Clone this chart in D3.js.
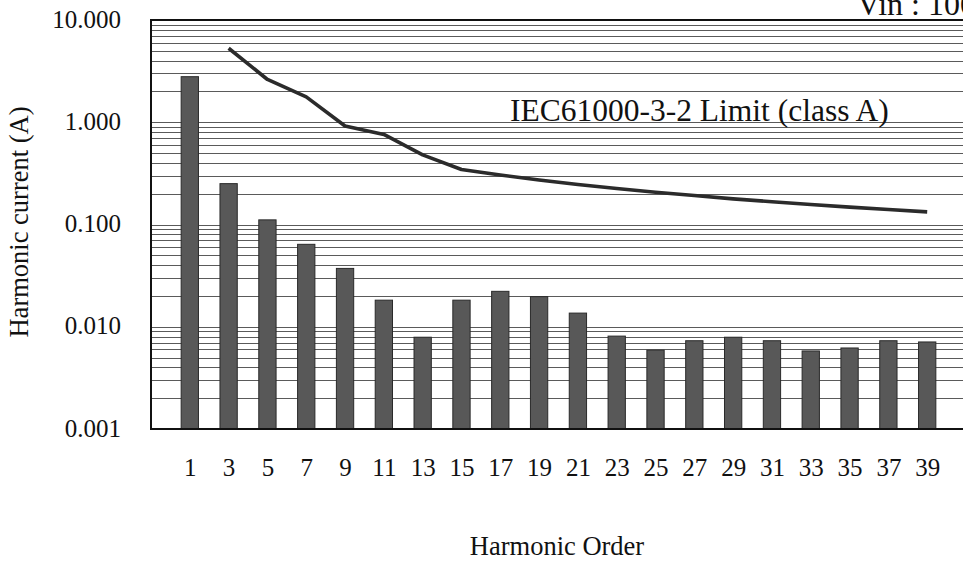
<!DOCTYPE html>
<html>
<head>
<meta charset="utf-8">
<script src="https://cdn.jsdelivr.net/npm/d3@7"></script>
<style>
  html, body { margin: 0; padding: 0; background: #fff; overflow: hidden; }
  svg { display: block; font-family: "Liberation Serif", "Times New Roman", serif; }
</style>
</head>
<body>
<svg id="chart" width="963" height="565"></svg>
<script>
// ---- data ----
const harmonicOrders = [1, 3, 5, 7, 9, 11, 13, 15, 17, 19, 21, 23, 25, 27, 29, 31, 33, 35, 37, 39];
const harmonicCurrent = [2.79, 0.251, 0.111, 0.064, 0.0372, 0.0182, 0.0079, 0.0182, 0.0222, 0.0197,
                         0.0136, 0.0081, 0.0059, 0.0073, 0.0079, 0.0073, 0.0058, 0.0062, 0.0073, 0.0071];
const limitOrders = [3, 5, 7, 9, 11, 13, 15, 17, 19, 21, 23, 25, 27, 29, 31, 33, 35, 37, 39];
const limitCurrent = [5.29, 2.62, 1.77, 0.92, 0.76, 0.48, 0.345, 0.305, 0.272, 0.246,
                      0.225, 0.207, 0.192, 0.178, 0.167, 0.157, 0.148, 0.140, 0.133];
const yTickValues = [10, 1, 0.1, 0.01, 0.001];
const yTickLabels = ["10.000", "1.000", "0.100", "0.010", "0.001"];
const limitLabel = "IEC61000-3-2 Limit (class A)";
const xTitle = "Harmonic Order";
const yTitle = "Harmonic current (A)";
const noteText = "Vin : 100V";

// ---- layout ----
const plotLeft = 151, plotRight = 966, plotTop = 20, plotBottom = 429;
const svg = d3.select("#chart");

const x = d3.scalePoint().domain(harmonicOrders).range([plotLeft, plotRight]).padding(1);
const y = d3.scaleLog().domain([0.001, 10]).range([plotBottom, plotTop]);
const barW = 17.3;

// gridlines (log minor + major)
const gridVals = [];
[0.001, 0.01, 0.1, 1].forEach(d => { for (let k = 1; k <= 9; k++) gridVals.push(k * d); });
gridVals.push(10);
svg.append("g").selectAll("line").data(gridVals).join("line")
  .attr("x1", plotLeft).attr("x2", plotRight)
  .attr("y1", d => Math.round(y(d)) + 0.5).attr("y2", d => Math.round(y(d)) + 0.5)
  .attr("stroke", "#5a5a5a").attr("stroke-width", 1);

// bars
svg.append("g").selectAll("rect").data(harmonicOrders).join("rect")
  .attr("x", d => x(d) - barW / 2)
  .attr("width", barW)
  .attr("y", (d, i) => y(harmonicCurrent[i]))
  .attr("height", (d, i) => y(0.001) - y(harmonicCurrent[i]))
  .attr("fill", "#585858")
  .attr("stroke", "#2a2a2a").attr("stroke-width", 1);

// plot frame
svg.append("rect").attr("x", plotLeft).attr("y", plotTop)
  .attr("width", plotRight - plotLeft).attr("height", plotBottom - plotTop)
  .attr("fill", "none").attr("stroke", "#111").attr("stroke-width", 2);

// limit line
const line = d3.line().x(d => x(d)).y((d, i) => y(limitCurrent[i]));
svg.append("path").datum(limitOrders).attr("d", line)
  .attr("fill", "none").attr("stroke", "#2b2b2b").attr("stroke-width", 3.6)
  .attr("stroke-linejoin", "round");

// limit label
svg.append("text").attr("x", 510).attr("y", 121)
  .attr("font-size", 31.5).attr("fill", "#111").text(limitLabel);

// y axis labels
const yAxis = d3.axisLeft(y).tickValues(yTickValues)
  .tickFormat((d, i) => yTickLabels[i]).tickSize(0).tickPadding(30);
const gy = svg.append("g").attr("transform", `translate(${plotLeft},0)`).call(yAxis);
gy.select(".domain").remove();
gy.selectAll("text").attr("font-family", "Liberation Serif").attr("font-size", 25)
  .attr("fill", "#111").attr("dy", "0.28em");

// x axis labels
const xAxis = d3.axisBottom(x).tickSize(0).tickPadding(29);
const gx = svg.append("g").attr("transform", `translate(0,${plotBottom})`).call(xAxis);
gx.select(".domain").remove();
gx.selectAll("text").attr("font-family", "Liberation Serif").attr("font-size", 25)
  .attr("fill", "#111");

// titles
svg.append("text").attr("x", 557).attr("y", 555).attr("text-anchor", "middle")
  .attr("font-size", 26.5).attr("fill", "#111").text(xTitle);
svg.append("text").attr("transform", "translate(28,222) rotate(-90)").attr("text-anchor", "middle")
  .attr("font-size", 26.5).attr("fill", "#111").text(yTitle);
svg.append("text").attr("x", 857).attr("y", 15)
  .attr("font-size", 32).attr("fill", "#111").text(noteText);
</script>
</body>
</html>
